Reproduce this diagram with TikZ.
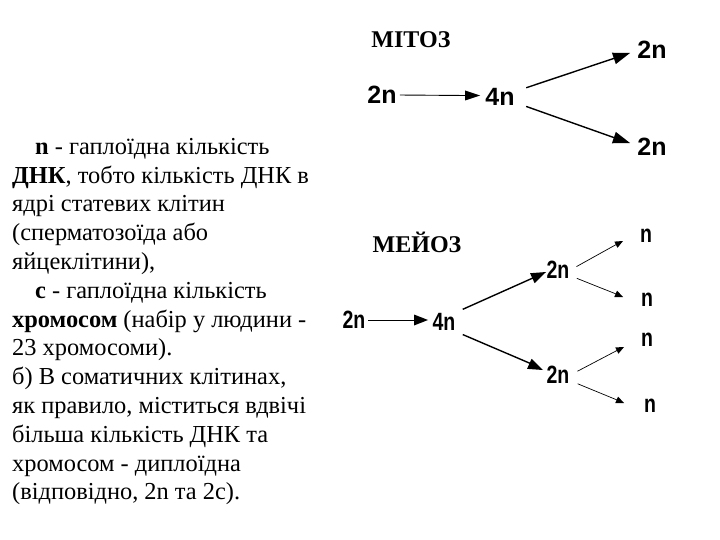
\documentclass[tikz,border=0pt]{standalone}
\usepackage{fontspec}
\setmainfont{Liberation Serif}
\setsansfont{Liberation Sans}
\begin{document}
\begin{tikzpicture}[x=1pt,y=1pt,
  bigline/.style={black,line width=1.4pt},
  thinline/.style={black,line width=0.9pt},
  smallline/.style={black,line width=0.7pt},
  tiphead/.style={black},
  mlab/.style={font=\sffamily\bfseries\fontsize{25}{27}\selectfont,inner sep=1pt},
  elab/.style={font=\sffamily\bfseries\fontsize{25}{27}\selectfont,inner sep=1pt,xscale=0.78},
  head/.style={font=\bfseries\fontsize{24}{27}\selectfont,inner sep=0pt}]
\useasboundingbox (0,0) rectangle (720,-540);

\node[anchor=north west,inner sep=0pt,align=left,font=\fontsize{24.4}{28.8}\selectfont] (txt) at (12,-138) {%
\hspace*{23pt}\textbf{n} - гаплоїдна кількість\\
\textbf{ДНК}, тобто кількість ДНК в\\
ядрі статевих клітин\\
(сперматозоїда або\\
яйцеклітини),\\
\hspace*{23pt}\textbf{c} - гаплоїдна кількість\\
\textbf{хромосом} (набір у людини -\\
23 хромосоми).\\
б) В соматичних клітинах,\\
як правило, міститься вдвічі\\
більша кількість ДНК та\\
хромосом - диплоїдна\\
(відповідно, 2n та 2c).};

% Mitosis
\node[head] (mt) at (411,-40) {МІТОЗ};
\node[mlab] (mA) at (382,-95) {2n};
\node[mlab] (mB) at (500,-97) {4n};
\node[mlab] (mC) at (652,-50) {2n};
\node[mlab] (mD) at (652,-147) {2n};

\coordinate (m1b) at (466,-95.5);
\coordinate (m2b) at (614.8,-58.1);
\coordinate (m3b) at (614.8,-137.9);
\draw[thinline,shorten <=2pt] (mA.east) -- (m1b);
\draw[bigline,shorten <=11pt] (mB.20) -- (m2b);
\draw[bigline,shorten <=11pt] (mB.-20) -- (m3b);
\fill[tiphead] (480,-95.5) -- (465,-90.5) -- (465,-100.5) -- cycle;
\fill[tiphead] (630,-53) -- (615.80,-64.11) -- (611.97,-52.73) -- cycle;
\fill[tiphead] (630,-143) -- (611.97,-143.27) -- (615.80,-131.89) -- cycle;

% Meiosis
\node[head] (me) at (417,-242) {МЕЙОЗ};
\node[elab] (eA) at (354,-320) {2n};
\node[elab] (eB) at (444,-322) {4n};
\node[elab] (eC) at (558,-270) {2n};
\node[elab] (eD) at (558,-375) {2n};
\node[elab] (n1) at (646,-236) {n};
\node[elab] (n2) at (647,-300) {n};
\node[elab] (n3) at (647,-340) {n};
\node[elab] (n4) at (650,-406) {n};

\coordinate (e1b) at (415,-320);
\coordinate (e2b) at (533.3,-277.8);
\coordinate (e3b) at (530.2,-363.4);
\coordinate (e4b) at (616.8,-244.2);
\coordinate (e5b) at (616.6,-294.2);
\coordinate (e6b) at (617.7,-350.1);
\coordinate (e7b) at (617.6,-400.2);
\draw[thinline,shorten <=2pt] (eA.east) -- (e1b);
\draw[bigline,shorten <=7pt] (eB.north east) -- (e2b);
\draw[bigline,shorten <=7pt] (eB.south east) -- (e3b);
\draw[smallline,shorten <=7pt] (eC.east) -- (e4b);
\draw[smallline,shorten <=7pt] (eC.-20) -- (e5b);
\draw[smallline,shorten <=8pt] (eD.east) -- (e6b);
\draw[smallline,shorten <=8pt] (eD.-20) -- (e7b);
\fill[tiphead] (428,-320) -- (414,-314.5) -- (414,-325.5) -- cycle;
\fill[tiphead] (546,-272) -- (534.65,-283.24) -- (530.07,-273.24) -- cycle;
\fill[tiphead] (543,-370) -- (527.06,-368.86) -- (531.58,-358.82) -- cycle;
\fill[tiphead] (623,-241) -- (617.53,-247.80) -- (614.29,-241.60) -- cycle;
\fill[tiphead] (623,-297) -- (614.26,-297.02) -- (617.06,-290.60) -- cycle;
\fill[tiphead] (624,-347) -- (618.41,-353.71) -- (615.27,-347.45) -- cycle;
\fill[tiphead] (624,-403) -- (615.26,-403.02) -- (618.06,-396.60) -- cycle;
\end{tikzpicture}
\end{document}
